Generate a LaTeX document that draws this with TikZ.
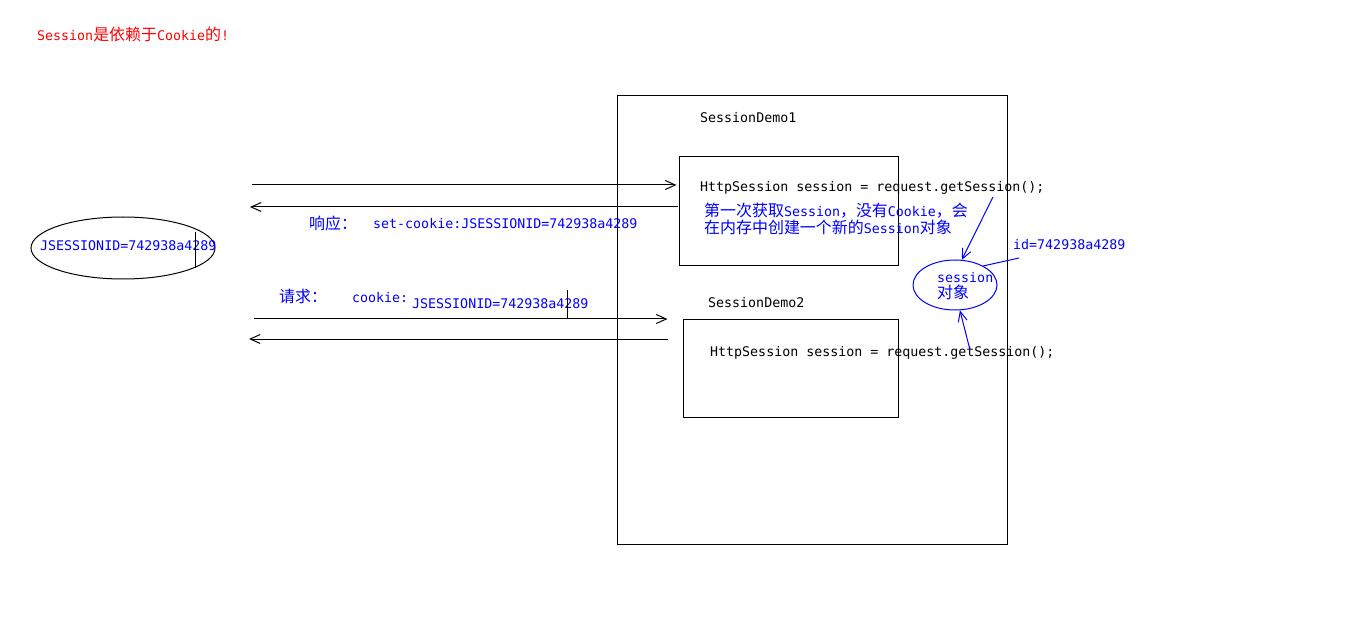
\documentclass[tikz,border=0pt]{standalone}
\usepackage{fontspec}
\setmonofont{DejaVu Sans Mono}
\newfontfamily\cjk[Scale=1.2]{Noto Sans CJK SC}
\usetikzlibrary{shapes.geometric, arrows.meta}
\newcommand{\zh}[1]{{\cjk #1}}

\begin{document}
\begin{tikzpicture}[
    x=1pt, y=-1pt,
    txt/.style={anchor=west, inner sep=0pt, yshift=-1.5pt, font=\ttfamily\fontsize{13.3}{17}\selectfont},
    note/.style={txt, text=blue},
    box/.style={draw, line width=1pt, inner sep=0pt},
    arr/.style={-{Straight Barb[length=10pt, width=9pt]}, line width=1pt},
    barr/.style={arr, blue},
]
    \fill[white] (0,0) rectangle (1360,620);
    \useasboundingbox (0,0) rectangle (1360,620);

    \node[txt, text=red] (title) at (37,33) {Session\zh{是依赖于}Cookie\zh{的}!};

    \node[box, minimum width=390pt, minimum height=448pt] (server) at (812,320) {};
    \node[txt] (demo1) at (700,116) {SessionDemo1};
    \node[box, minimum width=219pt, minimum height=109pt] (box1) at (788.5,211.5) {};
    \node[txt] (code1) at (700,186) {HttpSession session = request.getSession();};
    \node[note, align=left] (first) at (704,217.5)
        {\zh{第一次获取}Session\zh{，没有}Cookie\zh{，会}\\\zh{在内存中创建一个新的}Session\zh{对象}};

    \node[txt] (demo2) at (708,301) {SessionDemo2};
    \node[box, minimum width=215pt, minimum height=97pt] (box2) at (790.5,368.5) {};
    \node[txt] (code2) at (710,351) {HttpSession session = request.getSession();};

    \node[draw, ellipse, line width=1pt, minimum width=184pt, minimum height=62pt] (browser) at (123,248) {};
    \node[note] (jid) at (40,244) {JSESSIONID=742938a4289};
    \draw[line width=1pt] (195,232) -- (195,268);

    \node[note] (resp) at (309,222) {\zh{响应：}};
    \node[note] (setck) at (373,222) {set-cookie:JSESSIONID=742938a4289};
    \node[note] (req) at (279,295) {\zh{请求：}};
    \node[note] (ck) at (352,296) {cookie:};
    \node[note] (ckval) at (412,302) {JSESSIONID=742938a4289};
    \draw[line width=1pt] (567,290) -- (567,318);

    \node[draw=blue, ellipse, line width=1pt, minimum width=84pt, minimum height=50pt] (sobj) at (955,285) {};
    \node[note, align=left] (stext) at (937,284.5) {session\\[-1pt]\zh{对象}};
    \node[note] (idlbl) at (1013,243) {id=742938a4289};

    \coordinate (out1) at (252,185);
    \coordinate (in1) at (250,207);
    \coordinate (out2) at (254,319);
    \coordinate (in2) at (249,339);
    \draw[arr] (out1) -- ([xshift=-2pt]box1.west |- out1);
    \draw[arr] ([xshift=-1pt]box1.west |- in1) -- (in1);
    \draw[arr] (out2) -- ([xshift=-15pt]box2.west |- out2);
    \draw[arr] ([xshift=-15pt]box2.west |- in2) -- (in2);

    \coordinate (get1) at (993,197);
    \coordinate (get2) at (970,350);
    \coordinate (idtail) at (1019,258);
    \draw[barr] (get1) -- (sobj.75);
    \draw[barr] (get2) -- (sobj.-79);
    \draw[blue, line width=1pt] (idtail) -- (sobj.34);
\end{tikzpicture}
\end{document}
